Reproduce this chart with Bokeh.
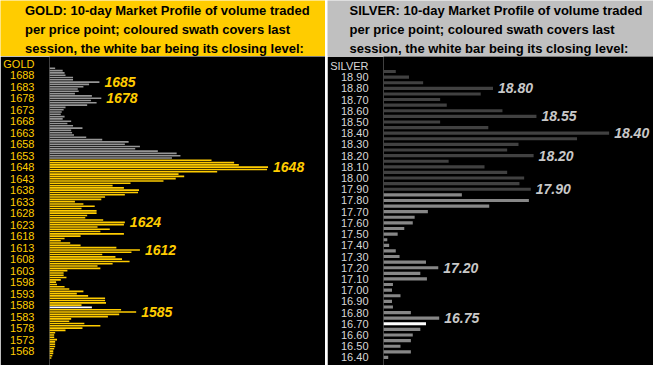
from bokeh.plotting import figure
from bokeh.models import Range1d, FixedTicker, ColumnDataSource, NumeralTickFormatter
from bokeh.layouts import row, column
from bokeh.embed import file_html
from bokeh.resources import INLINE
from bokeh.core.properties import value

# ---------------- data ----------------
gold_prices = list(range(1691, 1564, -1))
gold_volume = [
    6, 14, 16, 17, 25, 25, 53, 42, 36, 30,        # 1691..1682
    31, 27, 45, 55, 44, 50, 40, 17, 15, 13,       # 1681..1672
    12, 16, 14, 23, 19, 25, 35, 23, 24, 26,       # 1671..1662
    39, 56, 84, 80, 96, 91, 115, 135, 139, 130,   # 1661..1652
    172, 196, 201, 232, 231, 178, 137, 143, 134, 121,  # 1651..1642
    86, 67, 79, 95, 94, 80, 59, 55, 27, 36,       # 1641..1632
    48, 34, 50, 50, 40, 38, 57, 80, 79, 51,       # 1631..1622
    64, 54, 79, 33, 16, 12, 22, 33, 71, 96,       # 1621..1612
    87, 56, 70, 77, 85, 67, 51, 54, 19, 15,       # 1611..1602
    15, 18, 12, 7, 8, 16, 21, 36, 29, 41,         # 1601..1592
    59, 59, 60, 34, 45, 76, 92, 74, 62, 23,       # 1591..1582
    21, 37, 54, 35, 17, 6, 5, 5, 8, 6,            # 1581..1572
    6, 6, 5, 4, 4, 3, 2,                          # 1571..1565
]
gold_session_top = 1651
gold_close = 1587
gold_callouts = [1685, 1678, 1648, 1624, 1612, 1585]
gold_ticks = list(range(1568, 1689, 5))
gold_name = "GOLD"
gold_name_level = 1693

silver_prices = [round(18.95 - 0.05 * i, 2) for i in range(52)]
silver_volume = [
    13, 27, 42, 116, 103, 60, 67, 126, 162, 60,
    111, 239, 205, 143, 131, 159, 69, 107, 131, 149,
    144, 156, 83, 154, 112, 47, 33, 31, 22, 15,
    4, 6, 13, 17, 45, 58, 39, 46, 10, 9,
    18, 9, 10, 29, 59, 45, 39, 31, 29, 18,
    29, 5,
]
silver_session_top = 17.85
silver_close = 16.70
silver_callouts = [18.80, 18.55, 18.40, 18.20, 17.90, 17.20, 16.75]
silver_ticks = [round(16.40 + 0.10 * i, 2) for i in range(26)]
silver_name = "SILVER"
silver_name_level = 19.00

gold_title = ["GOLD:  10-day Market Profile of volume traded",
              "per price point; coloured swath covers last",
              "session, the white bar being its closing level:"]
silver_title = ["SILVER:  10-day Market Profile of volume traded",
                "per price point; coloured swath covers last",
                "session, the white bar being its closing level:"]

assert len(gold_prices) == len(gold_volume)
assert len(silver_prices) == len(silver_volume)

# ---------------- layout constants ----------------
PAGE_W, PAGE_H = 653, 365
HEAD_H = 56
MAIN_H = PAGE_H - HEAD_H
FONT = "Liberation Sans"


def no_align(fig):
    try:
        fig.frame_align = False
    except Exception:
        pass
    return fig


def header(width, lines, bg, text_x):
    h = figure(width=width, height=HEAD_H, x_range=Range1d(0, width), y_range=Range1d(0, HEAD_H),
               output_backend="svg", toolbar_location=None,
               x_axis_location=None, y_axis_location=None,
               min_border_left=0, min_border_right=0, min_border_top=0, min_border_bottom=0,
               background_fill_color=bg, border_fill_color=bg, outline_line_color=None)
    no_align(h)
    h.grid.visible = False
    src = ColumnDataSource(dict(x=[text_x] * len(lines), y=[46, 26.8, 8.1], t=lines))
    h.text(x="x", y="y", text="t", source=src, text_font=value(FONT), text_font_style="bold",
           text_font_size="13px", text_color="black", text_baseline="middle", text_align="left")
    return h


def main(width, left_border, xr_end, y_lo, y_hi, prices, vols, session_top, close, callouts,
         ticks, name, name_level, fmt, bar_h, c_session, c_old, c_tick, c_call):
    p = figure(width=width, height=MAIN_H, x_range=Range1d(0, xr_end), y_range=Range1d(y_lo, y_hi),
               output_backend="svg", toolbar_location=None, x_axis_location=None,
               min_border_left=left_border, min_border_right=0, min_border_top=0, min_border_bottom=0,
               background_fill_color="black", border_fill_color="black", outline_line_color=None)
    no_align(p)
    p.grid.visible = False
    colors = []
    for pr in prices:
        if abs(pr - close) < 1e-9:
            colors.append("white")
        elif pr <= session_top + 1e-9:
            colors.append(c_session)
        else:
            colors.append(c_old)
    src = ColumnDataSource(dict(y=prices, v=vols, c=colors))
    p.hbar(y="y", left=0, right="v", height=bar_h, fill_color="c", line_color=None, source=src)

    vol_of = dict(zip(prices, vols))
    csrc = ColumnDataSource(dict(x=[vol_of[c] for c in callouts], y=callouts,
                                 t=[format(c, fmt) for c in callouts]))
    p.text(x="x", y="y", text="t", source=csrc, x_offset=5, text_baseline="middle",
           text_align="left", text_font=value(FONT), text_font_style="bold italic",
           text_font_size="14px", text_color=c_call)

    ax = p.yaxis[0]
    ax.ticker = FixedTicker(ticks=list(ticks) + [name_level], minor_ticks=[])
    ax.formatter = NumeralTickFormatter(format="0.00" if fmt == ".2f" else "0")
    ax.major_label_overrides = {name_level: name}
    ax.axis_line_color = None
    ax.major_tick_line_color = None
    ax.minor_tick_line_color = None
    ax.major_label_standoff = 9
    ax.major_label_text_color = c_tick
    ax.major_label_text_font = FONT
    ax.major_label_text_font_size = "11px"
    return p


GOLD_W = 325
SILVER_W = PAGE_W - GOLD_W - 2

g_head = header(GOLD_W, gold_title, "#FFCC00", 24.5)
g_main = main(GOLD_W, 39, 293, 1561.74, 1696.14, gold_prices, gold_volume, gold_session_top,
              gold_close, gold_callouts, gold_ticks, gold_name, gold_name_level, "d", 0.7,
              "#FFCC00", "#969696", "#FFCC00", "#FFCC00")

s_head = header(SILVER_W, silver_title, "#C0C0C0", 22)
s_main = main(SILVER_W, 47, 286, 16.328, 19.084, silver_prices, silver_volume, silver_session_top,
              silver_close, silver_callouts, silver_ticks, silver_name, silver_name_level, ".2f", 0.028,
              "#878787", "#414141", "#D8D8D8", "#C8C8C8")

layout = row(column(g_head, g_main, spacing=0), column(s_head, s_main, spacing=0), spacing=2)

open("out.html", "w").write(file_html(layout, INLINE))
